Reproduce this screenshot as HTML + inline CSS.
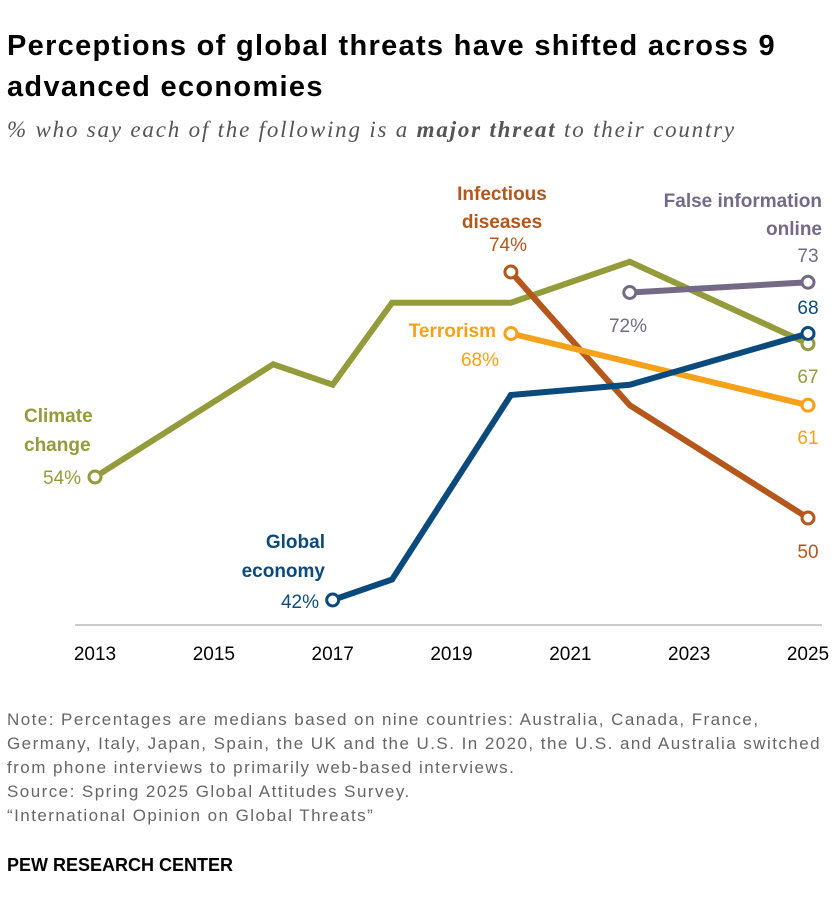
<!DOCTYPE html>
<html><head><meta charset="utf-8"><style>
body{margin:0;background:#fff;width:840px;height:916px;overflow:hidden;font-family:"Liberation Sans",sans-serif;}
#title{position:absolute;left:7px;top:26px;font-size:29px;letter-spacing:1.3px;font-weight:bold;line-height:41px;color:#000;width:815px}
#sub{position:absolute;left:7px;top:117px;font-family:"Liberation Serif",serif;font-style:italic;font-size:23px;letter-spacing:1.8px;color:#555}
#note{position:absolute;left:7px;top:708px;font-size:17px;letter-spacing:1.45px;line-height:24px;color:#666}
#pew{position:absolute;left:7px;top:855px;font-size:18px;font-weight:bold;color:#000}
svg{position:absolute;left:0;top:0}
</style></head><body>
<div id="title">Perceptions of global threats have shifted across 9 advanced economies</div>
<div id="sub">% who say each of the following is a <b>major threat</b> to their country</div>
<svg id="c" width="840" height="916"></svg>
<div id="note">Note: Percentages are medians based on nine countries: Australia, Canada, France,<br>Germany, Italy, Japan, Spain, the UK and the U.S. In 2020, the U.S. and Australia switched<br>from phone interviews to primarily web-based interviews.<br>Source: Spring 2025 Global Attitudes Survey.<br>“International Opinion on Global Threats”</div>
<div id="pew">PEW RESEARCH CENTER</div>
<script>
const tickYears=[2013,2015,2017,2019,2021,2023,2025];
const climateYears=[2013,2016,2017,2018,2020,2022,2025];
const climateVals=[54,65,63,71,71,75,67];
const economyYears=[2017,2018,2020,2022,2025];
const economyVals=[42,44,62,63,68];
const infectYears=[2020,2022,2025];
const infectVals=[74,61,50];
const terrorYears=[2020,2025];
const terrorVals=[68,61];
const falseYears=[2022,2025];
const falseVals=[72,73];
const NS="http://www.w3.org/2000/svg";
const svg=document.getElementById('c');
const x=y=>95+(y-2013)*(713/12);
const yv=v=>477-(v-54)*10.25;
function mk(t,a){const e=document.createElementNS(NS,t);for(const k in a)e.setAttribute(k,a[k]);svg.appendChild(e);return e;}
const ax=mk('line',{x1:75,x2:822,y1:625,y2:625,stroke:'#999','stroke-width':1});


tickYears.forEach(t=>{const e=mk('text',{x:x(t),y:660,'text-anchor':'middle','font-size':19,fill:'#000'});e.textContent=t;

});
function series(name,ys,vs,col){
 const p=mk('polyline',{points:ys.map((y,i)=>x(y)+','+yv(vs[i])).join(' '),fill:'none',stroke:col,'stroke-width':6,'stroke-linejoin':'miter'});
 
 
 [0,ys.length-1].forEach(i=>{const c=mk('circle',{cx:x(ys[i]),cy:yv(vs[i]),r:6,fill:'#fff',stroke:col,'stroke-width':3});
 
 });
}
function txt(name,s,tx,ty,col,anchor,bold){const e=mk('text',{x:tx,y:ty,'text-anchor':anchor,'font-size':19,fill:col,'font-weight':bold?'bold':'normal'});e.textContent=s;

}
const cc='#949b3a',ec='#0b4a7c',ic='#b5561b',tc='#f7a11a',fc='#756a85';
series('climate-change',climateYears,climateVals,cc);
series('infectious-diseases',infectYears,infectVals,ic);
series('terrorism',terrorYears,terrorVals,tc);
series('global-economy',economyYears,economyVals,ec);
series('false-information',falseYears,falseVals,fc);
const L=a=>a[a.length-1];
txt('climate-label','Climate',24,422,cc,'start',true);
txt('climate-label-2','change',24,451,cc,'start',true);
txt('climate-start-value',climateVals[0]+'%',81,484,cc,'end');
txt('climate-end-value',L(climateVals),808,383,cc,'middle');
txt('economy-label','Global',325,548,ec,'end',true);
txt('economy-label-2','economy',325,577,ec,'end',true);
txt('economy-start-value',economyVals[0]+'%',319,608,ec,'end');
txt('economy-end-value',L(economyVals),808,314,ec,'middle');
txt('infectious-label','Infectious',502,200,ic,'middle',true);
txt('infectious-label-2','diseases',502,228,ic,'middle',true);
txt('infectious-start-value',infectVals[0]+'%',508,251,ic,'middle');
txt('infectious-end-value',L(infectVals),808,558,ic,'middle');
txt('terrorism-label','Terrorism',496,337,tc,'end',true);
txt('terrorism-start-value',terrorVals[0]+'%',480,366,tc,'middle');
txt('terrorism-end-value',L(terrorVals),808,444,tc,'middle');
txt('false-info-label','False information',822,207,fc,'end',true);
txt('false-info-label-2','online',822,235,fc,'end',true);
txt('false-info-start-value',falseVals[0]+'%',628,332,fc,'middle');
txt('false-info-end-value',L(falseVals),808,262,fc,'middle');
</script>
</body></html>
